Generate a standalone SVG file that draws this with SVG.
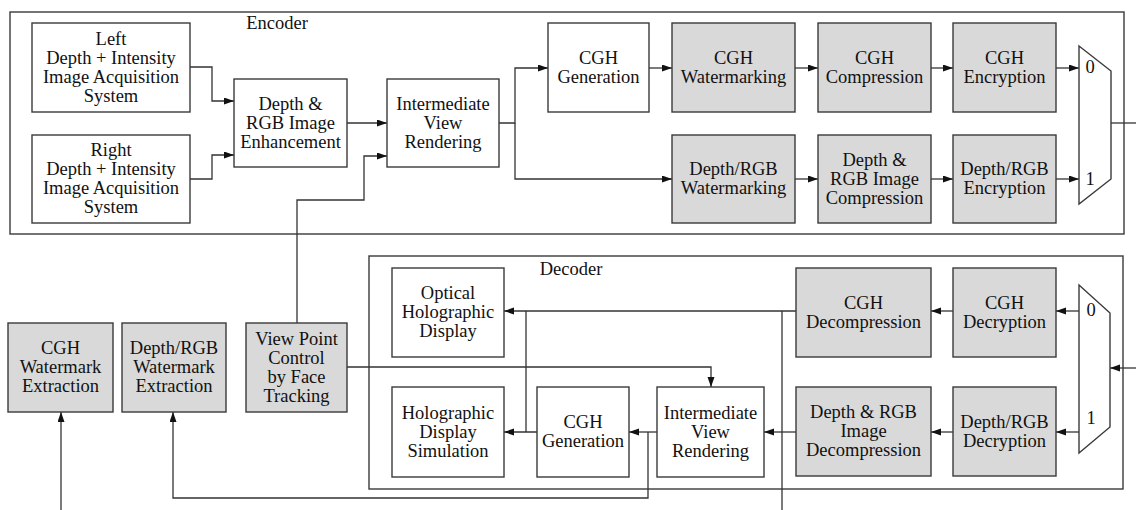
<svg xmlns="http://www.w3.org/2000/svg" width="1136" height="510" viewBox="0 0 1136 510">
<style>
.b{fill:#fff;stroke:#3a3a3a;stroke-width:1.4}
.g{fill:#d9d9d9;stroke:#3a3a3a;stroke-width:1.4}
.f{fill:none;stroke:#3a3a3a;stroke-width:1.4}
.c path{fill:none;stroke:#333;stroke-width:1.3}
.a{marker-end:url(#ah)}
text{font-family:Tinos,'Liberation Serif','Noto Serif','DejaVu Serif',FreeSerif,Times,serif;font-size:18.5px;fill:#111;text-anchor:middle}
</style>
<defs>
<marker id="ah" markerUnits="userSpaceOnUse" markerWidth="11" markerHeight="8" refX="10" refY="3.5" orient="auto">
<path d="M0,0 L10,3.5 L0,7 z" fill="#111"/>
</marker>
</defs>
<rect class="f" x="10" y="12" width="1114" height="222"/>
<text x="277" y="29">Encoder</text>
<rect class="f" x="369" y="256" width="754" height="233"/>
<text x="571" y="275">Decoder</text>
<g class="c">
<path class="a" d="M190,67 H212 V101 H234"/>
<path class="a" d="M190,179 H212 V155 H234"/>
<path class="a" d="M347,123 H387"/>
<path class="a" d="M297,323 V200 H364 V156 H387"/>
<path class="a" d="M499,123 H515 V68 H548"/>
<path class="a" d="M515,123 V179 H672"/>
<path class="a" d="M649,68 H672"/>
<path class="a" d="M795,68 H818"/>
<path class="a" d="M931,68 H953"/>
<path class="a" d="M1056,68 H1079"/>
<path class="a" d="M795,179 H818"/>
<path class="a" d="M931,179 H953"/>
<path class="a" d="M1056,179 H1079"/>
<path d="M1111,123 H1136"/>
<path class="a" d="M1136,368 H1110"/>
<path class="a" d="M1079,311 H1056"/>
<path class="a" d="M1079,432 H1056"/>
<path class="a" d="M953,311 H931"/>
<path class="a" d="M953,432 H931"/>
<path class="a" d="M796,311 H504"/>
<path d="M526,311 V432"/>
<path class="a" d="M537,432 H504"/>
<path d="M782,311 V510"/>
<path class="a" d="M796,432 H764"/>
<path class="a" d="M657,432 H629"/>
<path class="a" d="M648,432 V498 H173 V412"/>
<path class="a" d="M347,367 H711 V387"/>
<path class="a" d="M61,510 V412"/>
</g>
<g id="left_acq"><rect class="b" x="32" y="23" width="158" height="89"/><text x="111" y="44.5">Left</text><text x="111" y="63.5">Depth + Intensity</text><text x="111" y="82.5">Image Acquisition</text><text x="111" y="101.5">System</text></g>
<g id="right_acq"><rect class="b" x="32" y="135" width="158" height="88"/><text x="111" y="156">Right</text><text x="111" y="175">Depth + Intensity</text><text x="111" y="194">Image Acquisition</text><text x="111" y="213">System</text></g>
<g id="enhance"><rect class="b" x="234" y="79" width="113" height="88"/><text x="290.5" y="109.5">Depth &amp;</text><text x="290.5" y="128.5">RGB Image</text><text x="290.5" y="147.5">Enhancement</text></g>
<g id="ivr_enc"><rect class="b" x="387" y="79" width="112" height="88"/><text x="443" y="109.5">Intermediate</text><text x="443" y="128.5">View</text><text x="443" y="147.5">Rendering</text></g>
<g id="cgh_gen_enc"><rect class="b" x="548" y="23" width="101" height="89"/><text x="598.5" y="63.5">CGH</text><text x="598.5" y="82.5">Generation</text></g>
<g id="cgh_wm"><rect class="g" x="672" y="23" width="123" height="89"/><text x="733.5" y="63.5">CGH</text><text x="733.5" y="82.5">Watermarking</text></g>
<g id="cgh_comp"><rect class="g" x="818" y="23" width="113" height="89"/><text x="874.5" y="63.5">CGH</text><text x="874.5" y="82.5">Compression</text></g>
<g id="cgh_encr"><rect class="g" x="953" y="23" width="103" height="89"/><text x="1004.5" y="63.5">CGH</text><text x="1004.5" y="82.5">Encryption</text></g>
<g id="drgb_wm"><rect class="g" x="672" y="135" width="123" height="88"/><text x="733.5" y="175">Depth/RGB</text><text x="733.5" y="194">Watermarking</text></g>
<g id="drgb_comp"><rect class="g" x="818" y="135" width="113" height="88"/><text x="874.5" y="165.5">Depth &amp;</text><text x="874.5" y="184.5">RGB Image</text><text x="874.5" y="203.5">Compression</text></g>
<g id="drgb_encr"><rect class="g" x="953" y="135" width="103" height="88"/><text x="1004.5" y="175">Depth/RGB</text><text x="1004.5" y="194">Encryption</text></g>
<g id="mux_enc"><polygon class="b" points="1079,46 1111,71 1111,179 1079,204"/><text x="1090" y="73">0</text><text x="1090" y="185">1</text></g>
<g id="opt_disp"><rect class="b" x="392" y="268" width="112" height="89"/><text x="448" y="299">Optical</text><text x="448" y="318">Holographic</text><text x="448" y="337">Display</text></g>
<g id="sim_disp"><rect class="b" x="392" y="387" width="112" height="90"/><text x="448" y="418.5">Holographic</text><text x="448" y="437.5">Display</text><text x="448" y="456.5">Simulation</text></g>
<g id="cgh_gen_dec"><rect class="b" x="537" y="387" width="92" height="90"/><text x="583" y="428">CGH</text><text x="583" y="447">Generation</text></g>
<g id="ivr_dec"><rect class="b" x="657" y="387" width="107" height="90"/><text x="710.5" y="418.5">Intermediate</text><text x="710.5" y="437.5">View</text><text x="710.5" y="456.5">Rendering</text></g>
<g id="cgh_decomp"><rect class="g" x="796" y="268" width="135" height="89"/><text x="863.5" y="308.5">CGH</text><text x="863.5" y="327.5">Decompression</text></g>
<g id="cgh_decr"><rect class="g" x="953" y="268" width="103" height="89"/><text x="1004.5" y="308.5">CGH</text><text x="1004.5" y="327.5">Decryption</text></g>
<g id="drgb_decomp"><rect class="g" x="796" y="387" width="135" height="89"/><text x="863.5" y="418">Depth &amp; RGB</text><text x="863.5" y="437">Image</text><text x="863.5" y="456">Decompression</text></g>
<g id="drgb_decr"><rect class="g" x="953" y="387" width="103" height="89"/><text x="1004.5" y="427.5">Depth/RGB</text><text x="1004.5" y="446.5">Decryption</text></g>
<g id="mux_dec"><polygon class="b" points="1079,285 1110,313 1110,427 1079,453"/><text x="1091" y="316">0</text><text x="1091" y="424">1</text></g>
<g id="cgh_wme"><rect class="g" x="8" y="323" width="105" height="89"/><text x="60.5" y="354">CGH</text><text x="60.5" y="373">Watermark</text><text x="60.5" y="392">Extraction</text></g>
<g id="drgb_wme"><rect class="g" x="122" y="323" width="104" height="89"/><text x="174" y="354">Depth/RGB</text><text x="174" y="373">Watermark</text><text x="174" y="392">Extraction</text></g>
<g id="viewpoint"><rect class="g" x="246" y="323" width="101" height="89"/><text x="296.5" y="344.5">View Point</text><text x="296.5" y="363.5">Control</text><text x="296.5" y="382.5">by Face</text><text x="296.5" y="401.5">Tracking</text></g>
</svg>
